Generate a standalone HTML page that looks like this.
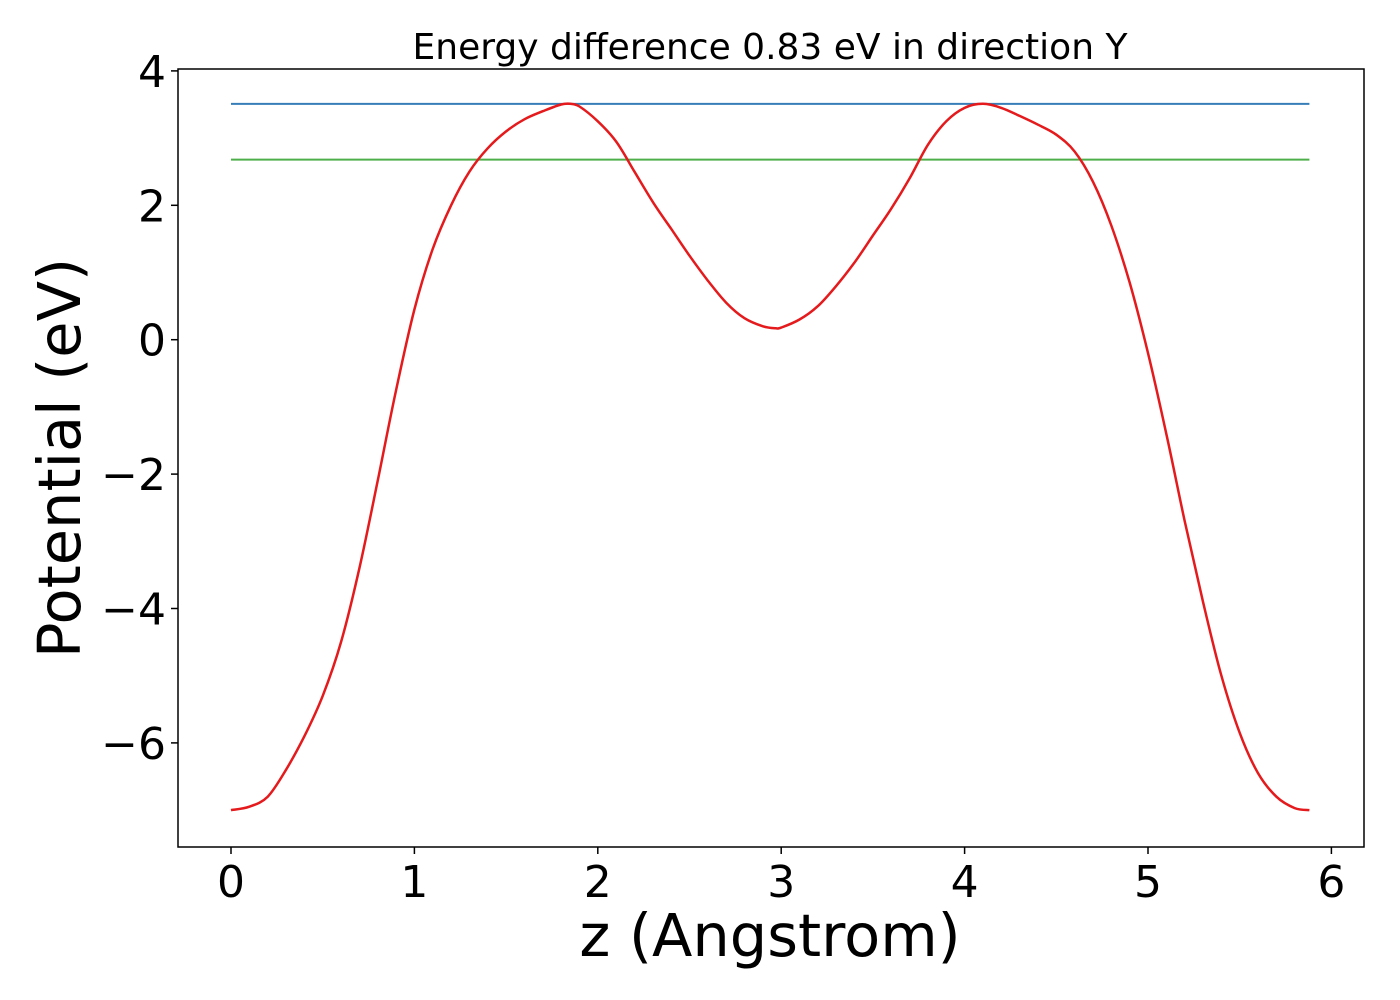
<!DOCTYPE html>
<html><head><meta charset="utf-8"><style>
body{margin:0;background:#fff;width:1400px;height:1000px;overflow:hidden}
svg{display:block;font-family:"DejaVu Sans","Liberation Sans",sans-serif}
</style></head><body>
<svg id="chart" width="1400" height="1000">
<rect width="1400" height="1000" fill="#fff"/>
<g id="plot"></g>
</svg>
<script>
const xs=[0,0.1,0.2,0.3,0.4,0.5,0.6,0.7,0.8,0.9,1.0,1.1,1.2,1.3,1.4,1.5,1.6,1.7,1.8,1.85,1.9,2.0,2.1,2.2,2.3,2.4,2.5,2.6,2.7,2.8,2.9,2.97,3.0,3.1,3.2,3.3,3.4,3.5,3.6,3.7,3.8,3.9,4.0,4.1,4.2,4.3,4.4,4.5,4.6,4.7,4.8,4.9,5.0,5.1,5.2,5.3,5.4,5.5,5.6,5.7,5.8,5.88];
const potential=[-7.0,-6.95,-6.8,-6.4,-5.9,-5.3,-4.5,-3.4,-2.1,-0.75,0.45,1.35,2.0,2.5,2.85,3.1,3.28,3.4,3.5,3.51,3.47,3.25,2.95,2.5,2.05,1.65,1.25,0.88,0.55,0.32,0.2,0.17,0.18,0.3,0.5,0.8,1.15,1.55,1.95,2.4,2.9,3.25,3.45,3.51,3.45,3.33,3.2,3.05,2.8,2.35,1.7,0.85,-0.2,-1.4,-2.7,-3.9,-5.0,-5.85,-6.45,-6.8,-6.97,-7.0];
const blueLevel=[3.51];
const greenLevel=[2.68];
const xTicks=[0,1,2,3,4,5,6];
const yTicks=[4,2,0,-2,-4,-6];
const yTickLabels=["4","2","0","\u22122","\u22124","\u22126"];

const L=178,R=1364,T=69,B=847;
const X=v=>231+v*183.4;
const Y=v=>339.7-v*67.2;
const NS='http://www.w3.org/2000/svg';
const g=document.getElementById('plot');
function mk(tag,attrs){const e=document.createElementNS(NS,tag);for(const k in attrs)e.setAttribute(k,attrs[k]);g.appendChild(e);return e;}

const frame=mk('rect',{x:L,y:T,width:R-L,height:B-T,fill:'none',stroke:'#000','stroke-width':1.5});



xTicks.forEach(t=>{
  const l=mk('line',{x1:X(t),x2:X(t),y1:B,y2:B+7,stroke:'#000','stroke-width':1.5});
  
  
  const tx=mk('text',{x:X(t),y:B+50,'font-size':44,'text-anchor':'middle'});
  tx.textContent=String(t);
  
  
});
yTicks.forEach((t,i)=>{
  const l=mk('line',{x1:L-7,x2:L,y1:Y(t),y2:Y(t),stroke:'#000','stroke-width':1.5});
  
  
  const tx=mk('text',{x:L-12,y:Y(t)+16,'font-size':44,'text-anchor':'end'});
  tx.textContent=yTickLabels[i];
  
  
});

const x0=xs[0],x1=xs[xs.length-1];
const bl=mk('line',{x1:X(x0),x2:X(x1),y1:Y(blueLevel[0]),y2:Y(blueLevel[0]),stroke:'#377eb8','stroke-width':2});


const gl=mk('line',{x1:X(x0),x2:X(x1),y1:Y(greenLevel[0]),y2:Y(greenLevel[0]),stroke:'#4daf4a','stroke-width':2});



const P=xs.map((x,i)=>[X(x),Y(potential[i])]);
let d='M'+P[0][0].toFixed(1)+','+P[0][1].toFixed(1);
for(let i=0;i<P.length-1;i++){
  const p0=P[Math.max(i-1,0)],p1=P[i],p2=P[i+1],p3=P[Math.min(i+2,P.length-1)];
  const c1=[p1[0]+(p2[0]-p0[0])/6,p1[1]+(p2[1]-p0[1])/6];
  const c2=[p2[0]-(p3[0]-p1[0])/6,p2[1]-(p3[1]-p1[1])/6];
  d+=' C'+c1.map(v=>v.toFixed(1)).join(',')+' '+c2.map(v=>v.toFixed(1)).join(',')+' '+p2.map(v=>v.toFixed(1)).join(',');
}
const pl=mk('path',{d:d,fill:'none',stroke:'#e41a1c','stroke-width':2.5,'stroke-linejoin':'round'});



const title=mk('text',{x:770,y:59,'font-size':36,'text-anchor':'middle'});
title.textContent='Energy difference 0.83 eV in direction Y';


const xl=mk('text',{x:770,y:956,'font-size':59,'text-anchor':'middle'});
xl.textContent='z (Angstrom)';


const yl=mk('text',{x:0,y:0,'font-size':59,'text-anchor':'middle',transform:'translate(80,458) rotate(-90)'});
yl.textContent='Potential (eV)';


</script>
</body></html>
